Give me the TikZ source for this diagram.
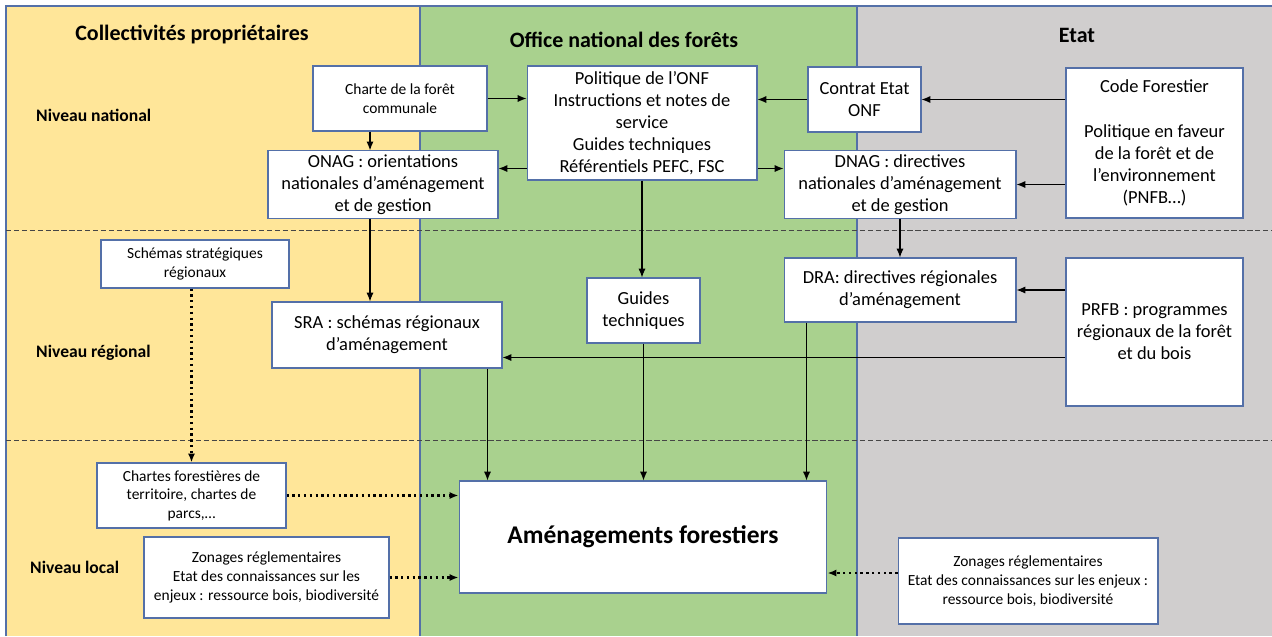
\documentclass[tikz,border=0pt]{standalone}
\usepackage{fontspec}
\setmainfont{Carlito}
\usetikzlibrary{arrows.meta, positioning, calc}
\definecolor{colyellow}{RGB}{255, 230, 153}
\definecolor{colgreen}{RGB}{169, 209, 142}
\definecolor{colgrey}{RGB}{208, 206, 206}
\definecolor{rulecol}{RGB}{84, 112, 168}
\definecolor{levelcol}{RGB}{70, 70, 70}

\begin{document}
\begin{tikzpicture}[x=0.02cm, y=-0.02cm,
        box/.style={draw=rulecol, line width=0.6pt, fill=white, align=center, inner sep=2pt,
            font=\fontsize{10.5}{12.6}\selectfont},
        smallbox/.style={box, font=\fontsize{8.8}{10.6}\selectfont},
        arr/.style={-{Latex[length=5pt, width=4pt]}, line width=0.6pt},
        dotarr/.style={-{Latex[length=5pt, width=4pt]}, line width=1.3pt, dotted},
        head/.style={font=\fontsize{12.5}{15}\selectfont\bfseries},
        level/.style={anchor=west, font=\fontsize{10}{12}\selectfont\bfseries}]
    \useasboundingbox (0,0) rectangle (1272,636);

    % Columns
    \fill[colyellow] (6,6) rectangle (420,636);
    \fill[colgreen] (420,6) rectangle (857,636);
    \fill[colgrey] (857,6) rectangle (1272,636);
    \draw[rulecol, line width=1.2pt] (6,636) -- (6,6) -- (1272,6);
    \draw[rulecol, line width=1.2pt] (420,6) -- (420,636);
    \draw[rulecol, line width=1.2pt] (857,6) -- (857,636);

    % Level separators
    \draw[levelcol, dash pattern=on 3pt off 1.5pt, line width=0.5pt] (6,230) -- (1272,230);
    \draw[levelcol, dash pattern=on 3pt off 1.5pt, line width=0.5pt] (6,440) -- (1272,440);

    % Headers and levels
    \node[head] (hcoll) at (192,35) {Collectivités propriétaires};
    \node[head] (honf) at (624,40) {Office national des forêts};
    \node[head] (hetat) at (1077,35) {Etat};
    \node[level] (lnat) at (30,115) {Niveau national};
    \node[level] (lreg) at (30,353) {Niveau régional};
    \node[level] (lloc) at (24,567) {Niveau local};

    % Niveau national
    \node[smallbox, minimum width=3.48cm, minimum height=1.30cm] (charte) at (400,98.5)
        {Charte de la forêt\\communale};
    \node[box, minimum width=4.60cm, minimum height=2.28cm] (politique) at (642,123)
        {Politique de l’ONF\\Instructions et notes de\\service\\Guides techniques\\Référentiels PEFC, FSC};
    \node[box, minimum width=2.26cm, minimum height=1.30cm] (contrat) at (864.5,99.5)
        {Contrat Etat\\ONF};
    \node[box, minimum width=3.54cm, minimum height=3.00cm] (code) at (1154.5,143)
        {Code Forestier\\\mbox{}\\Politique en faveur\\de la forêt et de\\l’environnement\\(PNFB…)};
    \node[box, minimum width=4.60cm, minimum height=1.30cm] (onag) at (383,184.5)
        {ONAG : orientations\\nationales d’aménagement\\et de gestion};
    \node[box, minimum width=4.64cm, minimum height=1.30cm] (dnag) at (900,184.5)
        {DNAG : directives\\nationales d’aménagement\\et de gestion};

    % Niveau regional
    \node[smallbox, minimum width=3.76cm, minimum height=0.96cm] (schemas) at (195,264)
        {Schémas stratégiques\\régionaux};
    \node[box, minimum width=4.60cm, minimum height=1.32cm] (sra) at (387,335)
        {SRA : schémas régionaux\\d’aménagement};
    \node[box, minimum width=2.26cm, minimum height=1.30cm] (guides) at (643.5,310.5)
        {Guides\\techniques};
    \node[box, minimum width=4.64cm, minimum height=1.28cm] (dra) at (900,290)
        {DRA: directives régionales\\d’aménagement};
    \node[box, minimum width=3.54cm, minimum height=2.96cm] (prfb) at (1154.5,332)
        {PRFB : programmes\\régionaux de la forêt\\et du bois};

    % Niveau local
    \node[smallbox, minimum width=3.78cm, minimum height=1.30cm] (chartes) at (191.5,495.5)
        {Chartes forestières de\\territoire, chartes de\\parcs,…};
    \node[smallbox, minimum width=4.90cm, minimum height=1.62cm] (zonl) at (266.5,577.5)
        {Zonages réglementaires\\Etat des connaissances sur les\\enjeux : ressource bois, biodiversité};
    \node[box, minimum width=7.36cm, minimum height=2.24cm, font=\fontsize{14.5}{17}\selectfont\bfseries]
        (amen) at (643,537) {Aménagements forestiers};
    \node[smallbox, minimum width=5.20cm, minimum height=1.72cm] (zonr) at (1028,581)
        {Zonages réglementaires\\Etat des connaissances sur les enjeux :\\ressource bois, biodiversité};

    % Helper points
    \coordinate (pl) at ([yshift=0.24cm]politique.south west);
    \coordinate (pr) at ([yshift=0.24cm]politique.south east);
    \coordinate (cs) at ([xshift=-0.6cm]charte.south);
    \coordinate (sr) at ([yshift=0.22cm]sra.south east);
    \coordinate (sd) at ([xshift=-0.3cm]sra.south east);
    \coordinate (dd) at ([xshift=0.46cm]dra.south west);
    \coordinate (zr) at ([yshift=0.16cm]zonr.west);

    % National arrows
    \draw[arr] (charte.east |- charte) -- (politique.west |- charte);
    \draw[arr] (contrat.west) -- (politique.east |- contrat.west);
    \draw[arr] (code.west |- contrat) -- (contrat.east);
    \draw[arr] (code.west |- dnag) -- (dnag.east);
    \draw[arr] (pl) -- (pl -| onag.east);
    \draw[arr] (pr) -- (pr -| dnag.west);
    \draw[arr] (cs) -- (cs |- onag.north);

    % Regional arrows
    \draw[arr] (cs |- onag.south) -- (cs |- sra.north);
    \draw[arr] (politique.south) -- (politique.south |- guides.north);
    \draw[arr] (dnag.south) -- (dra.north);
    \draw[arr] (prfb.west |- dra) -- (dra.east);
    \draw[arr] (prfb.west |- sr) -- (sr);

    % Local arrows
    \draw[arr] (sd) -- (sd |- amen.north);
    \draw[arr] (guides.south) -- (guides.south |- amen.north);
    \draw[arr] (dd) -- (dd |- amen.north);
    \draw[dotarr] (chartes.north |- schemas.south) -- (chartes.north);
    \draw[dotarr] (chartes.east) -- (chartes.east -| amen.west);
    \draw[dotarr] (zonl.east) -- (zonl.east -| amen.west);
    \draw[dotarr] (zr) -- (zr -| amen.east);
\end{tikzpicture}
\end{document}
